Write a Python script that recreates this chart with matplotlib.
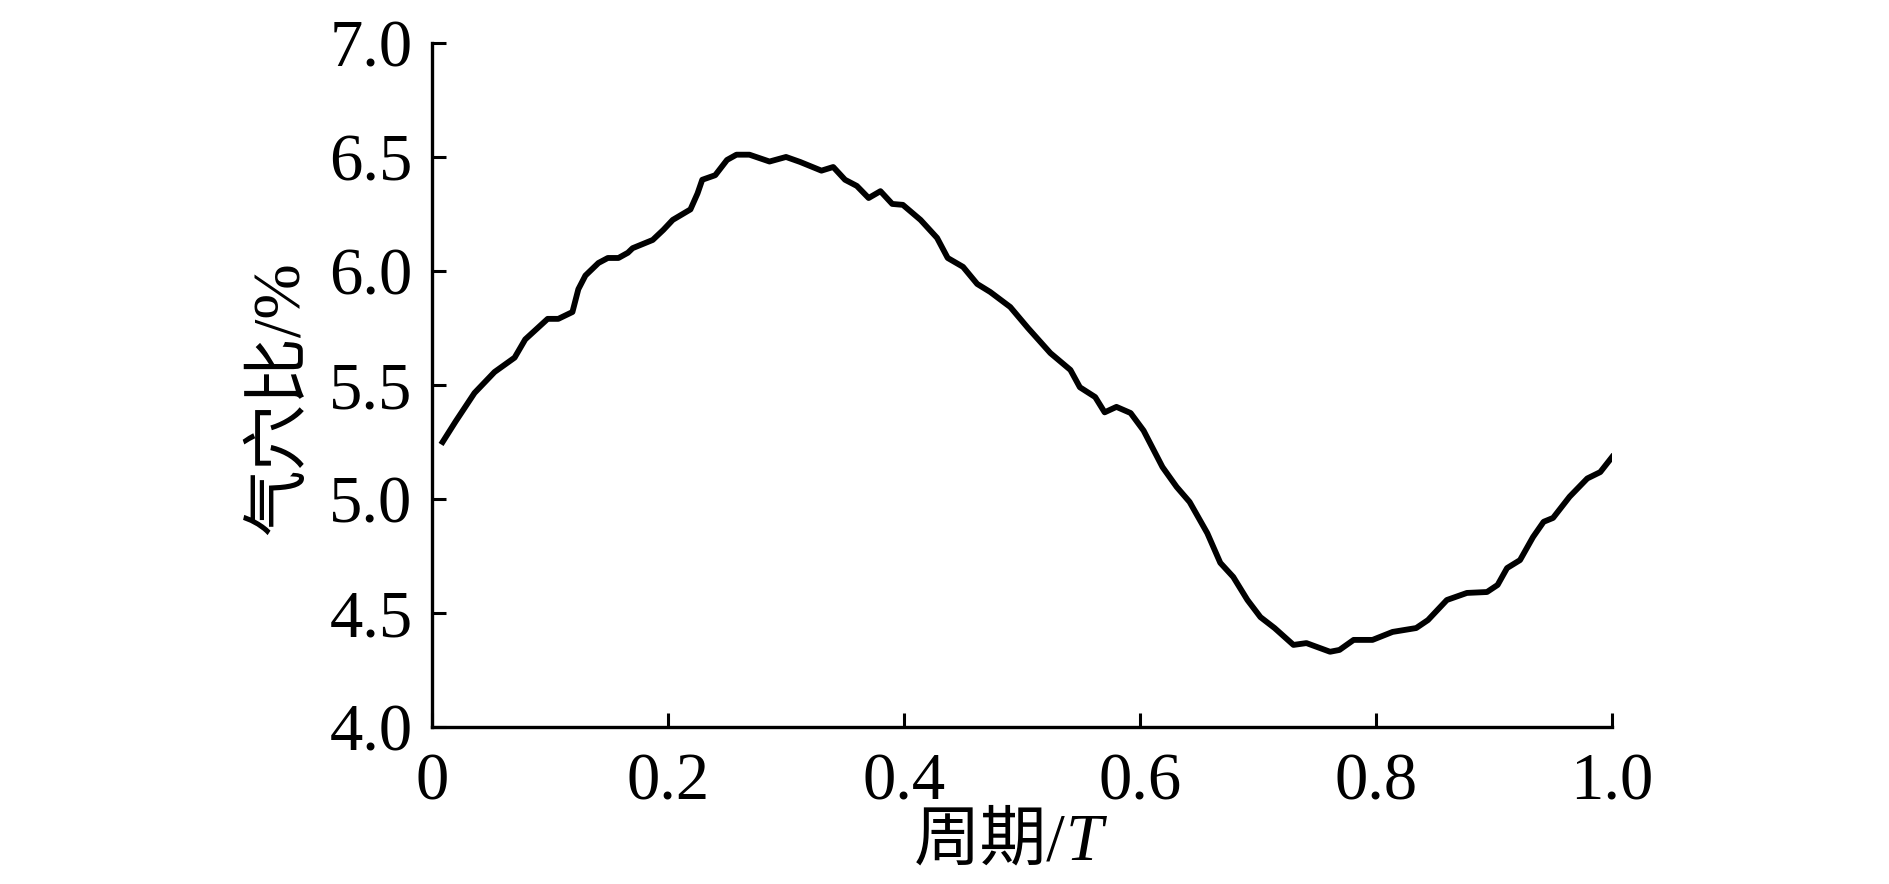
import matplotlib
matplotlib.use('Agg')
import matplotlib.pyplot as plt

plt.rcParams['font.family'] = ['Liberation Serif', 'Noto Sans CJK SC']

# Cavitation ratio over one period
period = [0.009, 0.020, 0.036, 0.053, 0.070, 0.079, 0.098, 0.107, 0.119, 0.124,
          0.130, 0.141, 0.149, 0.158, 0.166, 0.170, 0.187, 0.196, 0.204, 0.219,
          0.225, 0.229, 0.240, 0.250, 0.258, 0.269, 0.286, 0.300, 0.312, 0.330,
          0.340, 0.350, 0.360, 0.370, 0.380, 0.390, 0.399, 0.414, 0.428, 0.437,
          0.450, 0.462, 0.473, 0.490, 0.505, 0.524, 0.541, 0.549, 0.562, 0.570,
          0.580, 0.592, 0.603, 0.619, 0.631, 0.642, 0.657, 0.668, 0.679, 0.691,
          0.702, 0.714, 0.730, 0.741, 0.761, 0.769, 0.781, 0.797, 0.814, 0.834,
          0.844, 0.860, 0.877, 0.894, 0.903, 0.911, 0.922, 0.933, 0.942, 0.950,
          0.964, 0.979, 0.990, 1.000]
ratio = [5.25, 5.34, 5.465, 5.557, 5.62, 5.70, 5.79, 5.79, 5.82, 5.92,
         5.98, 6.035, 6.057, 6.057, 6.08, 6.10, 6.136, 6.18, 6.224, 6.27,
         6.34, 6.40, 6.42, 6.487, 6.51, 6.51, 6.48, 6.50, 6.478, 6.44,
         6.456, 6.40, 6.373, 6.32, 6.35, 6.294, 6.29, 6.224, 6.145, 6.057,
         6.018, 5.943, 5.908, 5.842, 5.75, 5.64, 5.566, 5.49, 5.447, 5.38,
         5.404, 5.377, 5.30, 5.14, 5.053, 4.987, 4.85, 4.72, 4.658, 4.557,
         4.482, 4.434, 4.36, 4.368, 4.33, 4.338, 4.382, 4.382, 4.417, 4.434,
         4.469, 4.557, 4.588, 4.592, 4.623, 4.697, 4.732, 4.833, 4.90, 4.917,
         5.01, 5.09, 5.118, 5.184]

x_ticks = [0, 0.2, 0.4, 0.6, 0.8, 1.0]
x_ticklabels = ['0', '0.2', '0.4', '0.6', '0.8', '1.0']
y_ticks = [4.0, 4.5, 5.0, 5.5, 6.0, 6.5, 7.0]

fig = plt.figure(figsize=(18.89, 8.84), dpi=100)
ax = fig.add_axes([0.2287, 0.1776, 0.6247, 0.7738])

ax.plot(period, ratio, color='black', linewidth=4.2, solid_joinstyle='round')

ax.set_xlim(0, 1.0)
ax.set_ylim(4.0, 7.0)
ax.set_xticks(x_ticks)
ax.set_xticklabels(x_ticklabels)
ax.set_yticks(y_ticks)
ax.set_yticklabels([f'{v:.1f}' for v in y_ticks])

for side in ['top', 'right']:
    ax.spines[side].set_visible(False)
for side in ['left', 'bottom']:
    ax.spines[side].set_linewidth(2.4)

ax.tick_params(direction='in', length=10, width=2.2, labelsize=48, color='black')
ax.tick_params(axis='y', pad=14)
ax.tick_params(axis='x', pad=18)

# x label: "周期/" upright, "T" italic
fig.text(0.5643, 0.046, '周期/', fontsize=48, ha='right', va='center')
fig.text(0.5643, 0.046, 'T', fontsize=48, ha='left', va='center', style='italic')
fig.text(0.149, 0.55, '气穴比/%', fontsize=48, ha='center', va='center', rotation=90)

fig.savefig('out.png', dpi=100)
